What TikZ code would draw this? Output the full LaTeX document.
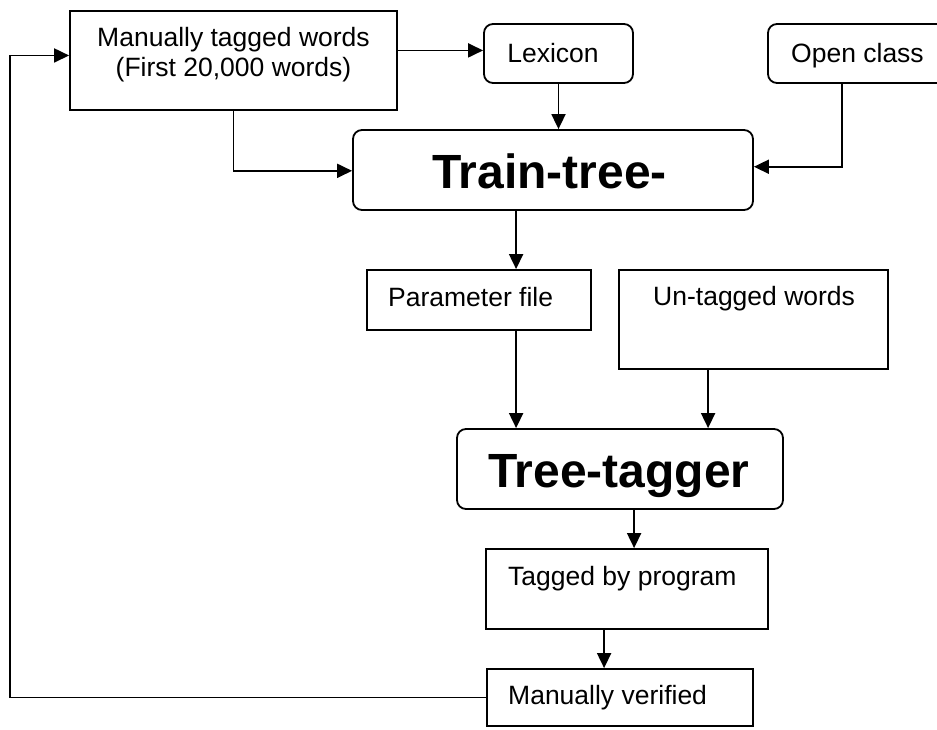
\documentclass[tikz,border=0pt]{standalone}
\usepackage{fontspec}
\setmainfont{Liberation Sans}
\usetikzlibrary{arrows.meta,calc}
\begin{document}
\begin{tikzpicture}[x=1pt,y=-1pt,
  lw/.style={line width=1.8pt},
  sqbox/.style={draw,lw,rectangle,inner sep=0pt},
  rbox/.style={draw,lw,rectangle,rounded corners=9pt,inner sep=0pt},
  arr/.style={lw,-{Triangle[length=15pt,width=14pt]}},
  small/.style={inner sep=0pt,font=\fontsize{26.5}{30.5}\selectfont},
  big/.style={inner sep=0pt,font=\fontsize{48}{55}\selectfont\bfseries}]
\useasboundingbox (0,0) rectangle (937,729);
\fill[white] (0,0) rectangle (937,729);
\clip (0,0) rectangle (937,729);
% boxes
\node[sqbox,minimum width=327pt,minimum height=99pt] (man) at (233.5,60.5) {};
\node[rbox,minimum width=149pt,minimum height=59pt] (lex) at (558.5,53.5) {};
\node[rbox,minimum width=182pt,minimum height=59pt] (open) at (859,53.5) {};
\node[rbox,minimum width=400pt,minimum height=80pt] (train) at (553,170) {};
\node[sqbox,minimum width=224pt,minimum height=60pt] (param) at (479,300) {};
\node[sqbox,minimum width=269pt,minimum height=99pt] (untag) at (753.5,319.5) {};
\node[rbox,minimum width=326pt,minimum height=80pt] (tt) at (620,469) {};
\node[sqbox,minimum width=282pt,minimum height=80pt] (tagged) at (627,589) {};
\node[sqbox,minimum width=266pt,minimum height=57pt] (verif) at (620,697.5) {};
% texts
\node[small,anchor=base] (tman1) at (233.5,46) {Manually tagged words};
\node[small,anchor=base] (tman2) at (233.5,76) {(First 20,000 words)};
\node[small,anchor=base] (tlex) at (553,62) {Lexicon};
\node[small,anchor=base west] (topen) at (791,62) {Open class};
\node[big,anchor=base west] (ttrain) at (432,188) {Train-tree-};
\node[small,anchor=base west] (tparam) at (388,306) {Parameter file};
\node[small,anchor=base west] (tuntag) at (653,305) {Un-tagged words};
\node[big,anchor=base west] (ttt) at (488,487) {Tree-tagger};
\node[small,anchor=base west] (ttagged) at (508,585) {Tagged by program};
\node[small,anchor=base west] (tverif) at (508,704) {Manually verified};
% connectors
\coordinate (m1) at ($(man.north east)!0.4!(man.south east)$);
\draw[arr] (m1) -- (m1 -| lex.west);
\draw[arr] (lex.south) -- (lex.south |- train.north);
\coordinate (o1) at ($(open.south west)+(75,0)$);
\coordinate (tr1) at ($(train.north east)!0.46!(train.south east)$);
\draw[arr] (o1) |- (tr1);
\coordinate (tr2) at ($(train.north west)!0.51!(train.south west)$);
\draw[arr] (man.south) |- (tr2);
\coordinate (p1) at ($(param.north west)+(150,0)$);
\draw[arr] (train.south -| p1) -- (p1);
\coordinate (p2) at ($(param.south west)+(150,0)$);
\draw[arr] (p2) -- (p2 |- tt.north);
\coordinate (u1) at ($(untag.south west)+(90,0)$);
\draw[arr] (u1) -- (u1 |- tt.north);
\coordinate (g1) at ($(tagged.north west)+(149,0)$);
\draw[arr] (tt.south -| g1) -- (g1);
\coordinate (v1) at ($(verif.north west)+(118,0)$);
\draw[arr] (tagged.south -| v1) -- (v1);
\coordinate (m2) at ($(man.north west)!0.45!(man.south west)$);
\coordinate (lp) at ([xshift=-59pt]m2);
\draw[arr] (verif.west) -| (lp) -- (m2);
\end{tikzpicture}
\end{document}
